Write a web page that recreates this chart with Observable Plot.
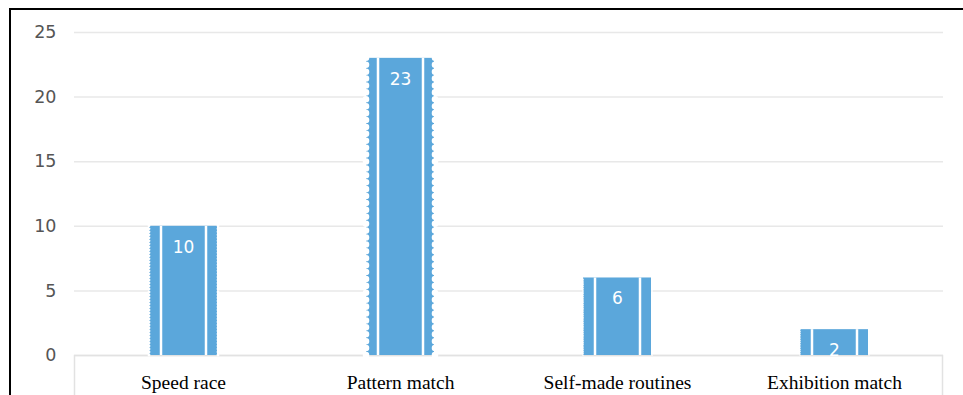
<!DOCTYPE html>
<html>
<head>
<meta charset="utf-8">
<script src="https://cdn.jsdelivr.net/npm/d3@7"></script>
<script src="https://cdn.jsdelivr.net/npm/@observablehq/plot@0.6"></script>
<style>
  html, body { margin: 0; padding: 0; background: #fff; overflow: hidden; }
  #frame { position: absolute; left: 9px; top: 8px; border-top: 2px solid #000; border-left: 2px solid #000; width: 1000px; height: 400px; }
</style>
</head>
<body>
<div id="frame"><div id="chart"></div></div>
<script>
const categories = ["Speed race", "Pattern match", "Self-made routines", "Exhibition match"];
const counts = [10, 23, 6, 2];
const yTicks = [0, 5, 10, 15, 20, 25];

const data = categories.map((c, i) => ({cat: c, value: counts[i]}));

const W = 952, H = 385;
const mT = 22, mB = 40, mL = 63, mR = 20;
const yMax = 25;
const pxPerUnit = (H - mT - mB) / yMax;
const blue = "#5ba7db";

const x = {domain: categories, paddingInner: 0.687, paddingOuter: 0.3435};
const step = (W - mL - mR) / 4;
const bw = step * (1 - 0.687);

const edgeMarks = data.map(d => {
  const p = d.value * pxPerUnit / 43;
  return [-1, 1].map(s => Plot.ruleX([d], {
    x: "cat", y1: 0, y2: "value", dx: s * (bw / 2 + 0.5),
    stroke: "#fff", strokeWidth: Math.max(p * 0.95, 1.6),
    strokeLinecap: "round", strokeDasharray: `0 ${Math.max(p, 1.8)}`
  }));
}).flat();

const boxMark = (index, scales, values, dims) => {
  const g = d3.create("svg:g");
  const x0 = dims.marginLeft + 0.5, x1 = dims.width - dims.marginRight - 0.5;
  const y0 = dims.height - dims.marginBottom + 0.5, y1 = dims.height + 5;
  g.append("path")
    .attr("d", `M${x0},${y1}V${y0}H${x1}V${y1}`)
    .attr("fill", "none").attr("stroke", "#e2e2e2").attr("stroke-width", 1.5);
  return g.node();
};

const chart = Plot.plot({
  width: W, height: H,
  marginTop: mT, marginBottom: mB, marginLeft: mL, marginRight: mR,
  x: {...x, label: null},
  y: {domain: [0, yMax], label: null},
  style: {background: "transparent"},
  marks: [
    Plot.gridY(yTicks, {stroke: "#e8e8e8", strokeOpacity: 1, strokeWidth: 1.5}),
    boxMark,
    Plot.axisY(yTicks, {tickSize: 0, tickPadding: 18, fontSize: 17.5, fontFamily: "DejaVu Sans", color: "#555", label: null}),
    Plot.axisX({tickSize: 0, tickPadding: 20, fontSize: 19.5, fontFamily: "Liberation Serif", color: "#000", label: null}),
    Plot.barY(data, {x: "cat", y: "value", fill: blue}),
    ...[-1, 1].map(s => Plot.ruleX(data, {x: "cat", y1: 0, y2: "value", dx: s * (bw / 2 - 11.5), stroke: "#fff", strokeWidth: 2.5})),
    ...edgeMarks,
    Plot.text(data, {x: "cat", y: "value", text: d => String(d.value), dy: 21, fill: "#fff", fontSize: 17, fontFamily: "DejaVu Sans"})
  ]
});
document.getElementById("chart").appendChild(chart);
</script>
</body>
</html>
